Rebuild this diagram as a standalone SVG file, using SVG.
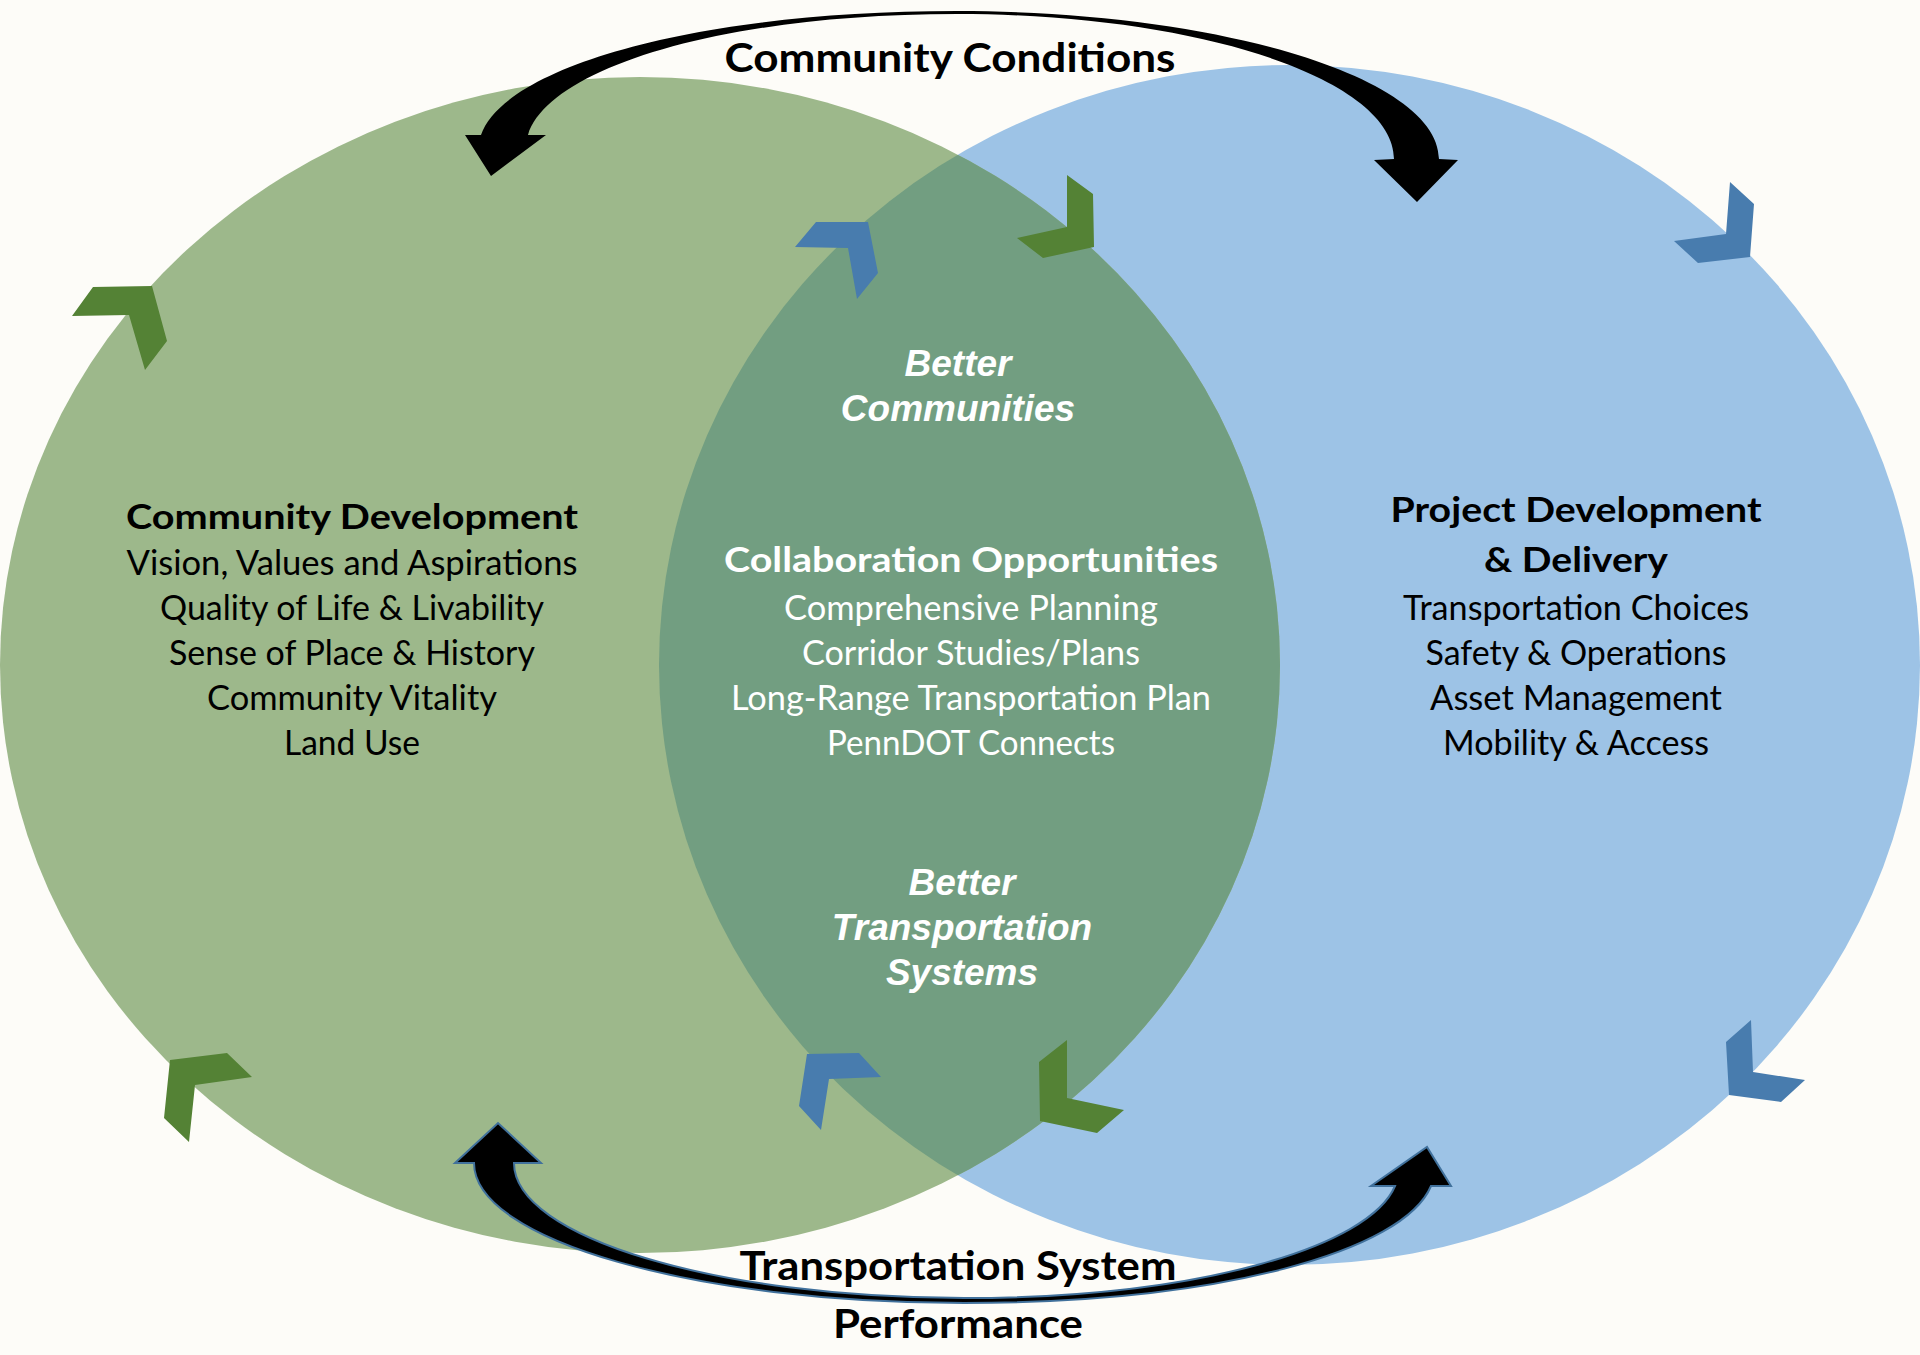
<svg xmlns="http://www.w3.org/2000/svg" width="1920" height="1355" viewBox="0 0 1920 1355">
<defs>
<style>
.bg{fill:#FDFCF8}
.green{fill:#9DB88B}
.blue{fill:#9DC3E6}
.lens{fill:#729E81}
.chg{fill:#548235}
.chb{fill:#487CAE}
.arr{fill:#000}
.arrb{fill:#000;stroke:#41719C;stroke-width:2;stroke-linejoin:miter}
.t{font-family:Lato,'Liberation Sans',sans-serif;font-size:34px;text-anchor:middle;fill:#000}
.h{font-weight:700}
.w{fill:#fff}
.it{font-family:'Liberation Sans',Arial,sans-serif;font-size:37px;font-weight:700;font-style:italic;fill:#fff;text-anchor:middle}
.big{font-family:Lato,'Liberation Sans',sans-serif;font-size:41px;font-weight:700;text-anchor:middle;fill:#000}
</style>
<ellipse id="gEll" cx="640" cy="665" rx="640" ry="588"/>
<clipPath id="gClip"><use href="#gEll"/></clipPath>
</defs>
<rect class="bg" x="0" y="0" width="1920" height="1355"/>
<g id="project-development">
<ellipse class="blue" cx="1289.5" cy="665" rx="630.5" ry="600"/>
</g>
<g id="community-development">
<use href="#gEll" class="green"/>
</g>
<g id="collaboration">
<ellipse class="lens" cx="1289.5" cy="665" rx="630.5" ry="600" clip-path="url(#gClip)"/>
</g>
<g id="chevrons">
<polygon class="chg" points="93,287 152,286 167,341 145,370 129,315 72,316"/>
<polygon class="chb" points="816,222 868,222 878,273 857,299 848,248 795,247"/>
<polygon class="chg" points="1067,175 1093,194 1094,247 1043,258 1017,238 1067,227"/>
<polygon class="chb" points="1730,182 1754,204 1750,257 1698,263 1674,241 1726,234"/>
<polygon class="chg" points="170,1060 227,1053 252,1077 195,1085 189,1142 164,1118"/>
<polygon class="chb" points="807,1054 859,1053 881,1077 829,1079 821,1130 799,1106"/>
<polygon class="chg" points="1067,1040 1067,1098 1124,1110 1097,1133 1040,1121 1039,1062"/>
<polygon class="chb" points="1751,1020 1753,1072 1805,1080 1781,1102 1729,1095 1726,1042"/>
</g>
<g id="connectors">
<path id="community-conditions-arrow" class="arr" d="M957,11 C1221,11 1439,78 1439,159 L1458,160 L1417,202 L1374,160 L1394,159 C1394,79 1198,14 957,14 C720,14 548,69 528,135 L546,135 L491,176 L465,135 L481,135 C504,67 696,11 957,11 Z"/>
<path id="performance-arrow" class="arrb" d="M964,1303 C1221,1303 1404,1251 1431,1186 L1451,1186 L1427,1147 L1371,1186 L1395,1186 C1370,1246 1201,1298 964,1298 C716,1298 514,1237 514,1163 L541,1163 L498,1123 L455,1163 L474,1163 C474,1240 694,1303 964,1303 Z"/>
</g>
<g id="community-development-text">
<text class="t h" x="352" y="529" textLength="452" lengthAdjust="spacingAndGlyphs">Community Development</text>
<text class="t" x="352" y="575" textLength="451" lengthAdjust="spacingAndGlyphs">Vision, Values and Aspirations</text>
<text class="t" x="352" y="620" textLength="384" lengthAdjust="spacingAndGlyphs">Quality of Life &amp; Livability</text>
<text class="t" x="352" y="665" textLength="366" lengthAdjust="spacingAndGlyphs">Sense of Place &amp; History</text>
<text class="t" x="352" y="710" textLength="290" lengthAdjust="spacingAndGlyphs">Community Vitality</text>
<text class="t" x="352" y="755" textLength="136" lengthAdjust="spacingAndGlyphs">Land Use</text>
</g>
<g id="collaboration-text">
<text class="it" x="958" y="376">Better</text>
<text class="it" x="958" y="421">Communities</text>
<text class="t h w" x="971" y="572" textLength="494" lengthAdjust="spacingAndGlyphs">Collaboration Opportunities</text>
<text class="t w" x="971" y="620" textLength="374" lengthAdjust="spacingAndGlyphs">Comprehensive Planning</text>
<text class="t w" x="971" y="665" textLength="338" lengthAdjust="spacingAndGlyphs">Corridor Studies/Plans</text>
<text class="t w" x="971" y="710" textLength="480" lengthAdjust="spacingAndGlyphs">Long-Range Transportation Plan</text>
<text class="t w" x="971" y="755" textLength="288" lengthAdjust="spacingAndGlyphs">PennDOT Connects</text>
<text class="it" x="962" y="895">Better</text>
<text class="it" x="962" y="940">Transportation</text>
<text class="it" x="962" y="985">Systems</text>
</g>
<g id="project-development-text">
<text class="t h" x="1576" y="522" textLength="371" lengthAdjust="spacingAndGlyphs">Project Development</text>
<text class="t h" x="1576" y="572" textLength="184" lengthAdjust="spacingAndGlyphs">&amp; Delivery</text>
<text class="t" x="1576" y="620" textLength="346" lengthAdjust="spacingAndGlyphs">Transportation Choices</text>
<text class="t" x="1576" y="665" textLength="301" lengthAdjust="spacingAndGlyphs">Safety &amp; Operations</text>
<text class="t" x="1576" y="710" textLength="292" lengthAdjust="spacingAndGlyphs">Asset Management</text>
<text class="t" x="1576" y="755" textLength="266" lengthAdjust="spacingAndGlyphs">Mobility &amp; Access</text>
</g>
<g id="labels">
<text class="big" x="950" y="72" textLength="451" lengthAdjust="spacingAndGlyphs">Community Conditions</text>
<text class="big" x="958" y="1280" textLength="437" lengthAdjust="spacingAndGlyphs">Transportation System</text>
<text class="big" x="958" y="1338" textLength="250" lengthAdjust="spacingAndGlyphs">Performance</text>
</g>
</svg>
